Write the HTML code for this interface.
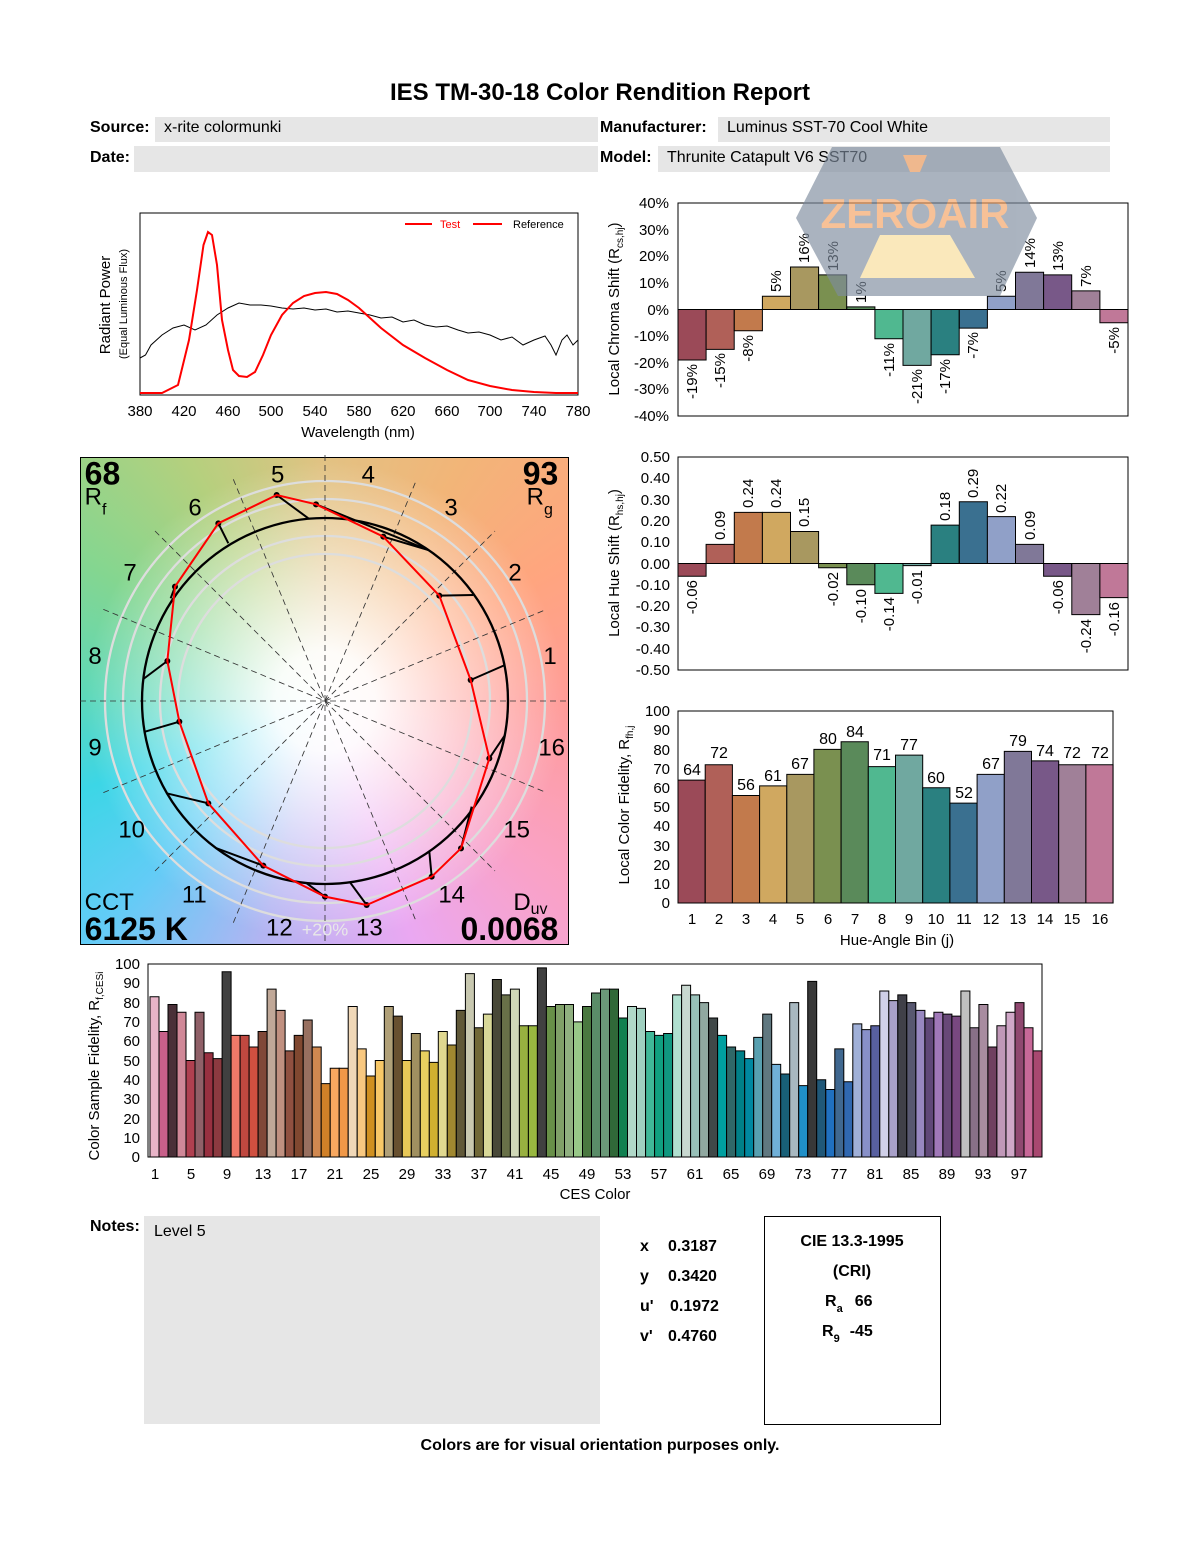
<!DOCTYPE html>
<html><head><meta charset="utf-8"><style>
body{margin:0;background:#fff;width:1200px;height:1550px;position:relative;overflow:hidden;font-family:"Liberation Sans",Arial,sans-serif}
#cv{position:absolute;left:81px;top:458px;width:488px;height:487px;background:conic-gradient(from 0deg at 50% 50%,#e2c283 0deg,#f2b578 30deg,#ffa57f 60deg,#ff9c98 90deg,#f9a2c8 130deg,#eaa8f2 160deg,#b2b4f2 195deg,#62ccf6 225deg,#3cd6e6 250deg,#5ed8b8 272deg,#84d690 300deg,#b4d07e 330deg,#e2c283 360deg)}
#cv2{position:absolute;left:81px;top:458px;width:488px;height:487px;background:radial-gradient(circle at 50% 50%,rgba(255,255,255,1) 0px,rgba(255,255,255,.95) 50px,rgba(255,255,255,.5) 140px,rgba(255,255,255,0) 240px)}
svg{position:absolute;left:0;top:0}
.b rect{vector-effect:non-scaling-stroke}
</style></head><body>
<div id="cv"></div><div id="cv2"></div>
<svg width="1200" height="1550" viewBox="0 0 1200 1550" font-family="Liberation Sans, Arial, sans-serif">
<text x="600" y="100" font-size="24" font-weight="bold" text-anchor="middle">IES TM-30-18 Color Rendition Report</text>
<rect x="155" y="117" width="443" height="25" fill="#e6e6e6"/><rect x="134" y="146" width="464" height="26" fill="#e6e6e6"/>
<rect x="718" y="117" width="392" height="25" fill="#e6e6e6"/><rect x="658" y="146" width="452" height="26" fill="#e6e6e6"/>
<g font-size="16"><text x="90" y="132" font-weight="bold">Source:</text><text x="164" y="132">x-rite colormunki</text>
<text x="90" y="162" font-weight="bold">Date:</text>
<text x="600" y="132" font-weight="bold">Manufacturer:</text><text x="727" y="132">Luminus SST-70 Cool White</text>
<text x="600" y="162" font-weight="bold">Model:</text><text x="667" y="162">Thrunite Catapult V6 SST70</text></g>

<!-- spectrum -->
<rect x="140" y="213" width="438" height="182" fill="none" stroke="#000" stroke-width="1"/>
<polyline fill="none" stroke="#000" stroke-width="1" points="140,358 145.5,355 151,345 162,335 173,328 184,325 195,330 206,325 217,315 228,308 239,303 250,305 261,305 271,306 282,308 293,309 304,308 315,310 326,309 337,312 348,311 359,313 370,315 381,318 392,317 403,322 414,320 425,325 436,327 447,326 458,330 468,333 479,332 490,335 501,340 512,337 523,345 534,340 545,336 551,345 556,355 562,340 567,335 573,345 578,340"/>
<polyline fill="none" stroke="#f00" stroke-width="2" points="140,393 162,393 178,385 189,340 197,290 203.5,245 208,232 212,235 217,265 222,320 228,350 233,370 239,376 247,377 255,372 263,355 271,335 282,315 293,303 304,296 315,293 326,292 337,294 348,300 359,308 370,318 381,328 403,345 425,358 447,370 468,380 490,386 512,390 534,392 556,393 578,393"/>
<line x1="405" y1="224" x2="432" y2="224" stroke="#f00" stroke-width="2"/><text x="440" y="228" font-size="11" fill="#f00">Test</text>
<line x1="473" y1="224" x2="502" y2="224" stroke="#f00" stroke-width="2"/><text x="513" y="228" font-size="11">Reference</text>
<g font-size="15" text-anchor="middle"><text x="140" y="416">380</text><text x="184" y="416">420</text><text x="228" y="416">460</text><text x="271" y="416">500</text><text x="315" y="416">540</text><text x="359" y="416">580</text><text x="403" y="416">620</text><text x="447" y="416">660</text><text x="490" y="416">700</text><text x="534" y="416">740</text><text x="578" y="416">780</text>
<text x="358" y="437">Wavelength (nm)</text>
<text transform="translate(110,305) rotate(-90)">Radiant Power</text>
<text transform="translate(127,304) rotate(-90)" font-size="11">(Equal Luminous Flux)</text></g>

<!-- chroma shift -->
<g class="b" transform="translate(0,309.5) scale(1,-2.66)" stroke="#000" stroke-width="1">
<rect x="678" y="-19" width="28.1" height="19" fill="#9b4a58"/><rect x="706.1" y="-15" width="28.1" height="15" fill="#b06058"/><rect x="734.3" y="-8" width="28.1" height="8" fill="#c27a4c"/><rect x="762.4" y="0" width="28.1" height="5" fill="#d0a860"/><rect x="790.5" y="0" width="28.1" height="16" fill="#a89860"/><rect x="818.6" y="0" width="28.1" height="13" fill="#7a9050"/><rect x="846.8" y="0" width="28.1" height="1" fill="#5a8a5a"/><rect x="874.9" y="-11" width="28.1" height="11" fill="#50b890"/><rect x="903" y="-21" width="28.1" height="21" fill="#70a8a0"/><rect x="931.1" y="-17" width="28.1" height="17" fill="#2a8080"/><rect x="959.3" y="-7" width="28.1" height="7" fill="#3a7090"/><rect x="987.4" y="0" width="28.1" height="5" fill="#90a0c8"/><rect x="1015.5" y="0" width="28.1" height="14" fill="#807898"/><rect x="1043.6" y="0" width="28.1" height="13" fill="#785888"/><rect x="1071.8" y="0" width="28.1" height="7" fill="#a08098"/><rect x="1099.9" y="-5" width="28.1" height="5" fill="#c07898"/></g>
<rect x="678" y="203" width="450" height="213" fill="none" stroke="#000"/>
<g font-size="15" text-anchor="end"><text x="669" y="208">40%</text><text x="669" y="235">30%</text><text x="669" y="261">20%</text><text x="669" y="288">10%</text><text x="669" y="315">0%</text><text x="669" y="341">-10%</text><text x="669" y="368">-20%</text><text x="669" y="394">-30%</text><text x="669" y="421">-40%</text></g>
<text transform="translate(619,309) rotate(-90)" font-size="15" text-anchor="middle">Local Chroma Shift (R<tspan font-size="10" dy="4">cs,hj</tspan><tspan dy="-4">)</tspan></text>
<g font-size="15">
<text transform="translate(697,364) rotate(-90)" text-anchor="end">-19%</text><text transform="translate(725,353) rotate(-90)" text-anchor="end">-15%</text><text transform="translate(753,335) rotate(-90)" text-anchor="end">-8%</text><text transform="translate(781,292) rotate(-90)">5%</text><text transform="translate(809,263) rotate(-90)">16%</text><text transform="translate(838,271) rotate(-90)">13%</text><text transform="translate(866,303) rotate(-90)">1%</text><text transform="translate(894,343) rotate(-90)" text-anchor="end">-11%</text><text transform="translate(922,369) rotate(-90)" text-anchor="end">-21%</text><text transform="translate(950,359) rotate(-90)" text-anchor="end">-17%</text><text transform="translate(978,332) rotate(-90)" text-anchor="end">-7%</text><text transform="translate(1006,292) rotate(-90)">5%</text><text transform="translate(1035,268) rotate(-90)">14%</text><text transform="translate(1063,271) rotate(-90)">13%</text><text transform="translate(1091,287) rotate(-90)">7%</text><text transform="translate(1119,327) rotate(-90)" text-anchor="end">-5%</text></g>

<!-- hue shift -->
<g class="b" transform="translate(0,563.5) scale(1,-2.13)" stroke="#000" stroke-width="1">
<rect x="678" y="-6" width="28.1" height="6" fill="#9b4a58"/><rect x="706.1" y="0" width="28.1" height="9" fill="#b06058"/><rect x="734.3" y="0" width="28.1" height="24" fill="#c27a4c"/><rect x="762.4" y="0" width="28.1" height="24" fill="#d0a860"/><rect x="790.5" y="0" width="28.1" height="15" fill="#a89860"/><rect x="818.6" y="-2" width="28.1" height="2" fill="#7a9050"/><rect x="846.8" y="-10" width="28.1" height="10" fill="#5a8a5a"/><rect x="874.9" y="-14" width="28.1" height="14" fill="#50b890"/><rect x="903" y="-1" width="28.1" height="1" fill="#70a8a0"/><rect x="931.1" y="0" width="28.1" height="18" fill="#2a8080"/><rect x="959.3" y="0" width="28.1" height="29" fill="#3a7090"/><rect x="987.4" y="0" width="28.1" height="22" fill="#90a0c8"/><rect x="1015.5" y="0" width="28.1" height="9" fill="#807898"/><rect x="1043.6" y="-6" width="28.1" height="6" fill="#785888"/><rect x="1071.8" y="-24" width="28.1" height="24" fill="#a08098"/><rect x="1099.9" y="-16" width="28.1" height="16" fill="#c07898"/></g>
<rect x="678" y="457" width="450" height="213" fill="none" stroke="#000"/>
<g font-size="15" text-anchor="end"><text x="670" y="462">0.50</text><text x="670" y="483">0.40</text><text x="670" y="505">0.30</text><text x="670" y="526">0.20</text><text x="670" y="547">0.10</text><text x="670" y="569">0.00</text><text x="670" y="590">-0.10</text><text x="670" y="611">-0.20</text><text x="670" y="632">-0.30</text><text x="670" y="654">-0.40</text><text x="670" y="675">-0.50</text></g>
<text transform="translate(619,563) rotate(-90)" font-size="15" text-anchor="middle">Local Hue Shift (R<tspan font-size="10" dy="4">hs,hj</tspan><tspan dy="-4">)</tspan></text>
<g font-size="15">
<text transform="translate(697,580) rotate(-90)" text-anchor="end">-0.06</text><text transform="translate(725,540) rotate(-90)">0.09</text><text transform="translate(753,508) rotate(-90)">0.24</text><text transform="translate(781,508) rotate(-90)">0.24</text><text transform="translate(809,527) rotate(-90)">0.15</text><text transform="translate(838,572) rotate(-90)" text-anchor="end">-0.02</text><text transform="translate(866,589) rotate(-90)" text-anchor="end">-0.10</text><text transform="translate(894,597) rotate(-90)" text-anchor="end">-0.14</text><text transform="translate(922,570) rotate(-90)" text-anchor="end">-0.01</text><text transform="translate(950,521) rotate(-90)">0.18</text><text transform="translate(978,498) rotate(-90)">0.29</text><text transform="translate(1006,513) rotate(-90)">0.22</text><text transform="translate(1035,540) rotate(-90)">0.09</text><text transform="translate(1063,580) rotate(-90)" text-anchor="end">-0.06</text><text transform="translate(1091,619) rotate(-90)" text-anchor="end">-0.24</text><text transform="translate(1119,602) rotate(-90)" text-anchor="end">-0.16</text></g>

<!-- fidelity -->
<g class="b" transform="translate(0,903) scale(1,-1.92)" stroke="#000" stroke-width="1">
<rect x="678" y="0" width="27.2" height="64" fill="#9b4a58"/><rect x="705.2" y="0" width="27.2" height="72" fill="#b06058"/><rect x="732.4" y="0" width="27.2" height="56" fill="#c27a4c"/><rect x="759.6" y="0" width="27.2" height="61" fill="#d0a860"/><rect x="786.8" y="0" width="27.2" height="67" fill="#a89860"/><rect x="813.9" y="0" width="27.2" height="80" fill="#7a9050"/><rect x="841.1" y="0" width="27.2" height="84" fill="#5a8a5a"/><rect x="868.3" y="0" width="27.2" height="71" fill="#50b890"/><rect x="895.5" y="0" width="27.2" height="77" fill="#70a8a0"/><rect x="922.7" y="0" width="27.2" height="60" fill="#2a8080"/><rect x="949.9" y="0" width="27.2" height="52" fill="#3a7090"/><rect x="977.1" y="0" width="27.2" height="67" fill="#90a0c8"/><rect x="1004.3" y="0" width="27.2" height="79" fill="#807898"/><rect x="1031.5" y="0" width="27.2" height="74" fill="#785888"/><rect x="1058.7" y="0" width="27.2" height="72" fill="#a08098"/><rect x="1085.9" y="0" width="27.2" height="72" fill="#c07898"/></g>
<rect x="678" y="711" width="435" height="192" fill="none" stroke="#000"/>
<g font-size="16" text-anchor="middle"><text x="692" y="775">64</text><text x="719" y="758">72</text><text x="746" y="790">56</text><text x="773" y="781">61</text><text x="800" y="769">67</text><text x="828" y="744">80</text><text x="855" y="737">84</text><text x="882" y="760">71</text><text x="909" y="750">77</text><text x="936" y="783">60</text><text x="964" y="798">52</text><text x="991" y="769">67</text><text x="1018" y="746">79</text><text x="1045" y="756">74</text><text x="1072" y="758">72</text><text x="1100" y="758">72</text></g>
<g font-size="15" text-anchor="end"><text x="670" y="716">100</text><text x="670" y="735">90</text><text x="670" y="755">80</text><text x="670" y="774">70</text><text x="670" y="793">60</text><text x="670" y="812">50</text><text x="670" y="831">40</text><text x="670" y="851">30</text><text x="670" y="870">20</text><text x="670" y="889">10</text><text x="670" y="908">0</text></g>
<g font-size="15" text-anchor="middle"><text x="692" y="924">1</text><text x="719" y="924">2</text><text x="746" y="924">3</text><text x="773" y="924">4</text><text x="800" y="924">5</text><text x="828" y="924">6</text><text x="855" y="924">7</text><text x="882" y="924">8</text><text x="909" y="924">9</text><text x="936" y="924">10</text><text x="964" y="924">11</text><text x="991" y="924">12</text><text x="1018" y="924">13</text><text x="1045" y="924">14</text><text x="1072" y="924">15</text><text x="1100" y="924">16</text>
<text x="897" y="945">Hue-Angle Bin (j)</text></g>
<text transform="translate(629,805) rotate(-90)" font-size="15" text-anchor="middle">Local Color Fidelity, R<tspan font-size="10" dy="4">fh,j</tspan></text>

<!-- vector graphic -->
<rect x="80.5" y="457.5" width="488" height="487" fill="none" stroke="#000" stroke-width="1"/>
<g transform="translate(80,455) scale(0.33333)">
<g fill="none" stroke="#ddd" stroke-width="7"><circle cx="735" cy="738" r="660"/><circle cx="735" cy="738" r="606"/><circle cx="735" cy="738" r="495"/><circle cx="735" cy="738" r="441"/></g>
<g stroke="#333" stroke-width="2.5" stroke-dasharray="18,12" fill="none">
<line x1="0" y1="738" x2="1470" y2="738"/><line x1="735" y1="0" x2="735" y2="1470"/>
<line x1="70" y1="463" x2="1400" y2="1013"/><line x1="70" y1="1013" x2="1400" y2="463"/>
<line x1="225" y1="228" x2="1245" y2="1248"/><line x1="225" y1="1248" x2="1245" y2="228"/>
<line x1="460" y1="73" x2="1010" y2="1403"/><line x1="460" y1="1403" x2="1010" y2="73"/></g>
<circle cx="735" cy="738" r="549" fill="none" stroke="#000" stroke-width="7"/>
<g stroke="#000" stroke-width="6" fill="#000">
<line x1="1275" y1="630" x2="1172" y2="675"/><line x1="1180" y1="420" x2="1078" y2="422"/><line x1="1045" y1="285" x2="910" y2="245"/><line x1="1045" y1="285" x2="708" y2="148"/><line x1="685" y1="190" x2="590" y2="120"/><line x1="445" y1="265" x2="415" y2="205"/><line x1="272" y1="430" x2="285" y2="395"/><line x1="190" y1="672" x2="262" y2="618"/><line x1="195" y1="830" x2="298" y2="800"/><line x1="260" y1="1015" x2="385" y2="1045"/><line x1="410" y1="1180" x2="550" y2="1232"/><line x1="680" y1="1285" x2="735" y2="1325"/><line x1="810" y1="1282" x2="860" y2="1350"/><line x1="1048" y1="1190" x2="1055" y2="1265"/><line x1="1175" y1="1055" x2="1143" y2="1180"/><line x1="1275" y1="840" x2="1228" y2="910"/>
<g stroke="none"><circle cx="1172" cy="675" r="9"/><circle cx="1078" cy="422" r="9"/><circle cx="910" cy="245" r="9"/><circle cx="708" cy="148" r="9"/><circle cx="590" cy="120" r="9"/><circle cx="415" cy="205" r="9"/><circle cx="285" cy="395" r="9"/><circle cx="262" cy="618" r="9"/><circle cx="298" cy="800" r="9"/><circle cx="385" cy="1045" r="9"/><circle cx="550" cy="1232" r="9"/><circle cx="735" cy="1325" r="9"/><circle cx="860" cy="1350" r="9"/><circle cx="1055" cy="1265" r="9"/><circle cx="1143" cy="1180" r="9"/><circle cx="1228" cy="910" r="9"/></g></g>
<polygon fill="none" stroke="#f00" stroke-width="6" points="1172,675 1078,422 910,245 708,148 590,120 415,205 285,395 262,618 298,800 385,1045 550,1232 735,1325 860,1350 1055,1265 1143,1180 1228,910"/>
<g font-size="72" text-anchor="middle"><text x="593" y="82">5</text><text x="865" y="82">4</text><text x="1113" y="182">3</text><text x="1305" y="377">2</text><text x="1410" y="627">1</text><text x="1415" y="902">16</text><text x="1310" y="1147">15</text><text x="1115" y="1342">14</text><text x="868" y="1442">13</text><text x="598" y="1442">12</text><text x="343" y="1342">11</text><text x="155" y="1147">10</text><text x="45" y="902">9</text><text x="45" y="627">8</text><text x="150" y="377">7</text><text x="345" y="182">6</text>
<text x="735" y="1442" fill="#e8e8e8" font-size="54">+20%</text></g>
<g font-size="96" font-weight="bold"><text x="14" y="88">68</text><text x="1435" y="88" text-anchor="end">93</text><text x="14" y="1455">6125 K</text><text x="1435" y="1455" text-anchor="end">0.0068</text></g>
<g font-size="72"><text x="14" y="148">R<tspan font-size="48" dy="30">f</tspan></text><text x="1340" y="148">R<tspan font-size="48" dy="30">g</tspan></text><text x="14" y="1365">CCT</text><text x="1300" y="1365">D<tspan font-size="48" dy="12">uv</tspan></text></g>
</g>

<!-- CES -->
<g class="b" transform="translate(0,1157) scale(1,-1.93)" stroke="#000" stroke-width="1">
<rect x="150" y="0" width="9" height="83" fill="#e8b4c8"/><rect x="159" y="0" width="9" height="65" fill="#c8608a"/><rect x="168" y="0" width="9" height="79" fill="#4a3038"/><rect x="177" y="0" width="9" height="75" fill="#d08898"/><rect x="186" y="0" width="9" height="50" fill="#b04050"/><rect x="195" y="0" width="9" height="75" fill="#906068"/><rect x="204.1" y="0" width="9" height="54" fill="#983040"/><rect x="213.1" y="0" width="9" height="51" fill="#8c3a40"/><rect x="222.1" y="0" width="9" height="96" fill="#404040"/><rect x="231.1" y="0" width="9" height="63" fill="#f07868"/>
<rect x="240.1" y="0" width="9" height="63" fill="#c04840"/><rect x="249.1" y="0" width="9" height="57" fill="#d05040"/><rect x="258.1" y="0" width="9" height="65" fill="#804838"/><rect x="267.1" y="0" width="9" height="87" fill="#c0a898"/><rect x="276.1" y="0" width="9" height="76" fill="#c09080"/><rect x="285.2" y="0" width="9" height="55" fill="#905040"/><rect x="294.2" y="0" width="9" height="63" fill="#804830"/><rect x="303.2" y="0" width="9" height="71" fill="#987060"/><rect x="312.2" y="0" width="9" height="57" fill="#d08850"/><rect x="321.2" y="0" width="9" height="38" fill="#d08028"/>
<rect x="330.2" y="0" width="9" height="46" fill="#f8a860"/><rect x="339.2" y="0" width="9" height="46" fill="#f09848"/><rect x="348.2" y="0" width="9" height="78" fill="#f0d8b8"/><rect x="357.2" y="0" width="9" height="56" fill="#f8c880"/><rect x="366.2" y="0" width="9" height="42" fill="#d09020"/><rect x="375.3" y="0" width="9" height="50" fill="#f8c868"/><rect x="384.3" y="0" width="9" height="78" fill="#b0a078"/><rect x="393.3" y="0" width="9" height="73" fill="#685030"/><rect x="402.3" y="0" width="9" height="50" fill="#e8c858"/><rect x="411.3" y="0" width="9" height="64" fill="#a09060"/>
<rect x="420.3" y="0" width="9" height="55" fill="#e8d060"/><rect x="429.3" y="0" width="9" height="49" fill="#d0b030"/><rect x="438.3" y="0" width="9" height="65" fill="#e0d890"/><rect x="447.3" y="0" width="9" height="58" fill="#a08830"/><rect x="456.3" y="0" width="9" height="76" fill="#605838"/><rect x="465.4" y="0" width="9" height="95" fill="#c8c8b0"/><rect x="474.4" y="0" width="9" height="67" fill="#706838"/><rect x="483.4" y="0" width="9" height="74" fill="#d8d898"/><rect x="492.4" y="0" width="9" height="92" fill="#484838"/><rect x="501.4" y="0" width="9" height="84" fill="#687048"/>
<rect x="510.4" y="0" width="9" height="87" fill="#d0d8b8"/><rect x="519.4" y="0" width="9" height="68" fill="#98b040"/><rect x="528.4" y="0" width="9" height="68" fill="#98b840"/><rect x="537.4" y="0" width="9" height="98" fill="#404040"/><rect x="546.4" y="0" width="9" height="78" fill="#689048"/><rect x="555.5" y="0" width="9" height="79" fill="#80a068"/><rect x="564.5" y="0" width="9" height="79" fill="#90b080"/><rect x="573.5" y="0" width="9" height="70" fill="#98c888"/><rect x="582.5" y="0" width="9" height="78" fill="#4a7840"/><rect x="591.5" y="0" width="9" height="85" fill="#5a8c68"/>
<rect x="600.5" y="0" width="9" height="87" fill="#6a9878"/><rect x="609.5" y="0" width="9" height="87" fill="#306838"/><rect x="618.5" y="0" width="9" height="72" fill="#108050"/><rect x="627.5" y="0" width="9" height="78" fill="#b0d8c8"/><rect x="636.5" y="0" width="9" height="77" fill="#a0d0c0"/><rect x="645.6" y="0" width="9" height="65" fill="#40b898"/><rect x="654.6" y="0" width="9" height="63" fill="#10a080"/><rect x="663.6" y="0" width="9" height="64" fill="#109880"/><rect x="672.6" y="0" width="9" height="84" fill="#b0e0d0"/><rect x="681.6" y="0" width="9" height="89" fill="#c8d8d0"/>
<rect x="690.6" y="0" width="9" height="84" fill="#98c0b8"/><rect x="699.6" y="0" width="9" height="80" fill="#90a8a0"/><rect x="708.6" y="0" width="9" height="72" fill="#404848"/><rect x="717.6" y="0" width="9" height="63" fill="#00a0a0"/><rect x="726.6" y="0" width="9" height="57" fill="#306868"/><rect x="735.7" y="0" width="9" height="55" fill="#008088"/><rect x="744.7" y="0" width="9" height="51" fill="#0088a0"/><rect x="753.7" y="0" width="9" height="62" fill="#58a0b0"/><rect x="762.7" y="0" width="9" height="74" fill="#607880"/><rect x="771.7" y="0" width="9" height="48" fill="#70b0d8"/>
<rect x="780.7" y="0" width="9" height="43" fill="#186078"/><rect x="789.7" y="0" width="9" height="80" fill="#a8b8c0"/><rect x="798.7" y="0" width="9" height="37" fill="#2090c8"/><rect x="807.7" y="0" width="9" height="91" fill="#383838"/><rect x="816.7" y="0" width="9" height="40" fill="#205878"/><rect x="825.8" y="0" width="9" height="35" fill="#2070c0"/><rect x="834.8" y="0" width="9" height="56" fill="#406890"/><rect x="843.8" y="0" width="9" height="39" fill="#3068b0"/><rect x="852.8" y="0" width="9" height="69" fill="#a0b0d8"/><rect x="861.8" y="0" width="9" height="66" fill="#8890c8"/>
<rect x="870.8" y="0" width="9" height="68" fill="#5860a0"/><rect x="879.8" y="0" width="9" height="86" fill="#d0d0e8"/><rect x="888.8" y="0" width="9" height="81" fill="#a8a0c8"/><rect x="897.8" y="0" width="9" height="84" fill="#404048"/><rect x="906.8" y="0" width="9" height="80" fill="#585870"/><rect x="915.9" y="0" width="9" height="76" fill="#9888c0"/><rect x="924.9" y="0" width="9" height="72" fill="#604878"/><rect x="933.9" y="0" width="9" height="75" fill="#a078b8"/><rect x="942.9" y="0" width="9" height="74" fill="#684878"/><rect x="951.9" y="0" width="9" height="73" fill="#784880"/>
<rect x="960.9" y="0" width="9" height="86" fill="#c0c0c0"/><rect x="969.9" y="0" width="9" height="67" fill="#887088"/><rect x="978.9" y="0" width="9" height="79" fill="#a88ca0"/><rect x="987.9" y="0" width="9" height="57" fill="#704060"/><rect x="996.9" y="0" width="9" height="68" fill="#c098b8"/><rect x="1006" y="0" width="9" height="75" fill="#d0a8c8"/><rect x="1015" y="0" width="9" height="80" fill="#904870"/><rect x="1024" y="0" width="9" height="67" fill="#c86898"/><rect x="1033" y="0" width="9" height="55" fill="#a84870"/></g>
<rect x="148" y="964" width="894" height="193" fill="none" stroke="#000"/>
<g font-size="15" text-anchor="end"><text x="140" y="969">100</text><text x="140" y="988">90</text><text x="140" y="1008">80</text><text x="140" y="1027">70</text><text x="140" y="1046">60</text><text x="140" y="1066">50</text><text x="140" y="1085">40</text><text x="140" y="1104">30</text><text x="140" y="1124">20</text><text x="140" y="1143">10</text><text x="140" y="1162">0</text></g>
<g font-size="15" text-anchor="middle"><text x="155" y="1179">1</text><text x="191" y="1179">5</text><text x="227" y="1179">9</text><text x="263" y="1179">13</text><text x="299" y="1179">17</text><text x="335" y="1179">21</text><text x="371" y="1179">25</text><text x="407" y="1179">29</text><text x="443" y="1179">33</text><text x="479" y="1179">37</text><text x="515" y="1179">41</text><text x="551" y="1179">45</text><text x="587" y="1179">49</text><text x="623" y="1179">53</text><text x="659" y="1179">57</text><text x="695" y="1179">61</text><text x="731" y="1179">65</text><text x="767" y="1179">69</text><text x="803" y="1179">73</text><text x="839" y="1179">77</text><text x="875" y="1179">81</text><text x="911" y="1179">85</text><text x="947" y="1179">89</text><text x="983" y="1179">93</text><text x="1019" y="1179">97</text>
<text x="595" y="1199">CES Color</text></g>
<text transform="translate(99,1066) rotate(-90)" font-size="15" text-anchor="middle">Color Sample Fidelity, R<tspan font-size="10" dy="4">f,CESi</tspan></text>

<!-- bottom -->
<rect x="144" y="1216" width="456" height="208" fill="#e6e6e6"/>
<text x="90" y="1231" font-size="16" font-weight="bold">Notes:</text><text x="154" y="1236" font-size="16">Level 5</text>
<g font-size="16" font-weight="bold"><text x="640" y="1251">x</text><text x="668" y="1251">0.3187</text><text x="640" y="1281">y</text><text x="668" y="1281">0.3420</text><text x="640" y="1311">u'</text><text x="670" y="1311">0.1972</text><text x="640" y="1341">v'</text><text x="668" y="1341">0.4760</text></g>
<rect x="764.5" y="1216.5" width="176" height="208" fill="none" stroke="#000"/>
<g font-size="16" font-weight="bold"><text x="852" y="1246" text-anchor="middle">CIE 13.3-1995</text><text x="852" y="1276" text-anchor="middle">(CRI)</text>
<text x="825" y="1306">R<tspan font-size="11" dy="6">a</tspan><tspan dy="-6" dx="12">66</tspan></text><text x="822" y="1336">R<tspan font-size="11" dy="6">9</tspan><tspan dy="-6" dx="10">-45</tspan></text></g>
<text x="600" y="1450" font-size="16" font-weight="bold" text-anchor="middle">Colors are for visual orientation purposes only.</text>

<!-- watermark -->
<g opacity="0.65"><polygon points="832,147 1000,147 1037,218 1000,296 838,296 796,218" fill="#7e8c9e"/>
<polygon points="880,235 950,235 975,278 860,278" fill="#f8dc98"/>
<polygon points="903,155 927,155 920,172 910,172" fill="#f4a060"/>
<text x="915" y="228" font-size="42" font-weight="bold" fill="#f4a060" text-anchor="middle">ZEROAIR</text></g>
</svg>
</body></html>
